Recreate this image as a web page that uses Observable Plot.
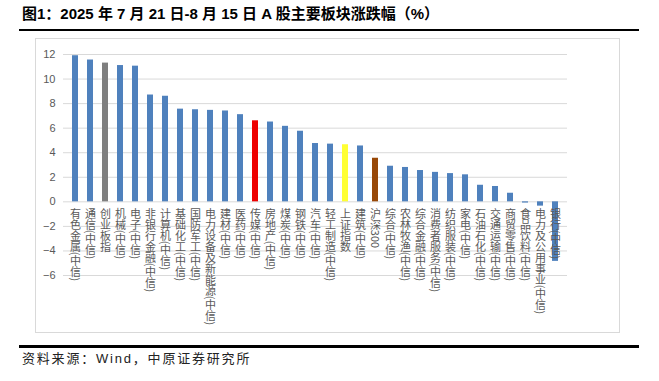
<!DOCTYPE html>
<html><head><meta charset="utf-8">
<script src="https://cdn.jsdelivr.net/npm/d3@7"></script>
<script src="https://cdn.jsdelivr.net/npm/@observablehq/plot@0.6"></script>
<style>
body{margin:0;background:#fff;}
#wrap{position:relative;width:659px;height:381px;overflow:hidden;font-family:"Liberation Sans","Noto Sans CJK SC",sans-serif;background:#fff;}
#title{position:absolute;left:22px;top:4px;font-size:15px;font-weight:bold;color:#000;white-space:nowrap;line-height:20px;}
#rule1{position:absolute;left:19px;width:620px;top:29px;height:2px;background:#000;}
#frame{position:absolute;left:35px;top:38px;width:585px;height:295px;border:1px solid #d9d9d9;box-sizing:border-box;}
#chart{position:absolute;left:0;top:38px;}
#rule2{position:absolute;left:19px;width:620px;top:345px;height:3px;background:#000;}
#source{position:absolute;left:22px;top:350px;font-size:13px;letter-spacing:1.8px;color:#222;white-space:nowrap;line-height:18px;}
</style>
</head><body>
<div id="wrap">
  <div id="title">图1：2025 年 7 月 21 日-8 月 15 日 A 股主要板块涨跌幅（%）</div>
  <div id="rule1"></div>
  <div id="frame"></div>
  <div id="chart"></div>
  <div id="rule2"></div>
  <div id="source">资料来源：Wind，中原证券研究所</div>
</div>
<script>
const categories = [
  "有色金属(中信)","通信(中信)","创业板指","机械(中信)","电子(中信)",
  "非银行金融(中信)","计算机(中信)","基础化工(中信)","国防军工(中信)","电力设备及新能源(中信)",
  "建材(中信)","医药(中信)","传媒(中信)","房地产(中信)","煤炭(中信)",
  "钢铁(中信)","汽车(中信)","轻工制造(中信)","上证指数","建筑(中信)",
  "沪深300","综合(中信)","农林牧渔(中信)","综合金融(中信)","消费者服务(中信)",
  "纺织服装(中信)","家电(中信)","石油石化(中信)","交通运输(中信)","商贸零售(中信)",
  "食品饮料(中信)","电力及公用事业(中信)","银行(中信)"
];
const values = [
  11.9, 11.55, 11.3, 11.1, 11.05,
  8.7, 8.6, 7.55, 7.5, 7.45,
  7.4, 7.1, 6.6, 6.5, 6.15,
  5.75, 4.75, 4.7, 4.65, 4.55,
  3.55, 2.9, 2.8, 2.55, 2.4,
  2.3, 2.2, 1.35, 1.25, 0.7,
  -0.1, -0.35, -4.85
];
const yTicks = [-6, -4, -2, 0, 2, 4, 6, 8, 10, 12];
const highlightColors = {"创业板指": "#7f7f7f", "传媒(中信)": "#ee0000", "上证指数": "#ffff33", "沪深300": "#984807"};
const baseColor = "#4f81bd";

const data = categories.map((c, i) => ({category: c, value: values[i]}));

const chart = Plot.plot({
  width: 659, height: 295,
  marginTop: 16, marginBottom: 58, marginLeft: 63, marginRight: 92,
  style: {fontFamily: '"Liberation Sans","Noto Sans CJK SC",sans-serif', background: "transparent"},
  x: {domain: categories, padding: 0.6, axis: null},
  y: {domain: [-6, 12], axis: null},
  color: {type: "identity"},
  marks: [
    Plot.gridY(yTicks, {stroke: "#d9d9d9", strokeOpacity: 1}),
    Plot.axisY(yTicks, {tickSize: 0, tickPadding: 8, fontSize: 11, color: "#595959", label: null}),
    Plot.barY(data, {x: "category", y: "value", fill: d => highlightColors[d.category] ?? baseColor}),
    Plot.text(data, {x: "category", y: () => 0, text: "category", textAnchor: "start", dy: 6, fontSize: 11, fill: "#595959", fontFamily: '"Noto Sans CJK SC",sans-serif'})
  ]
});
d3.select(chart).selectAll('g[aria-label="text"] text')
  .style("writing-mode", "vertical-rl")
  .attr("y", null);
document.getElementById("chart").appendChild(chart);
</script>
</body></html>
